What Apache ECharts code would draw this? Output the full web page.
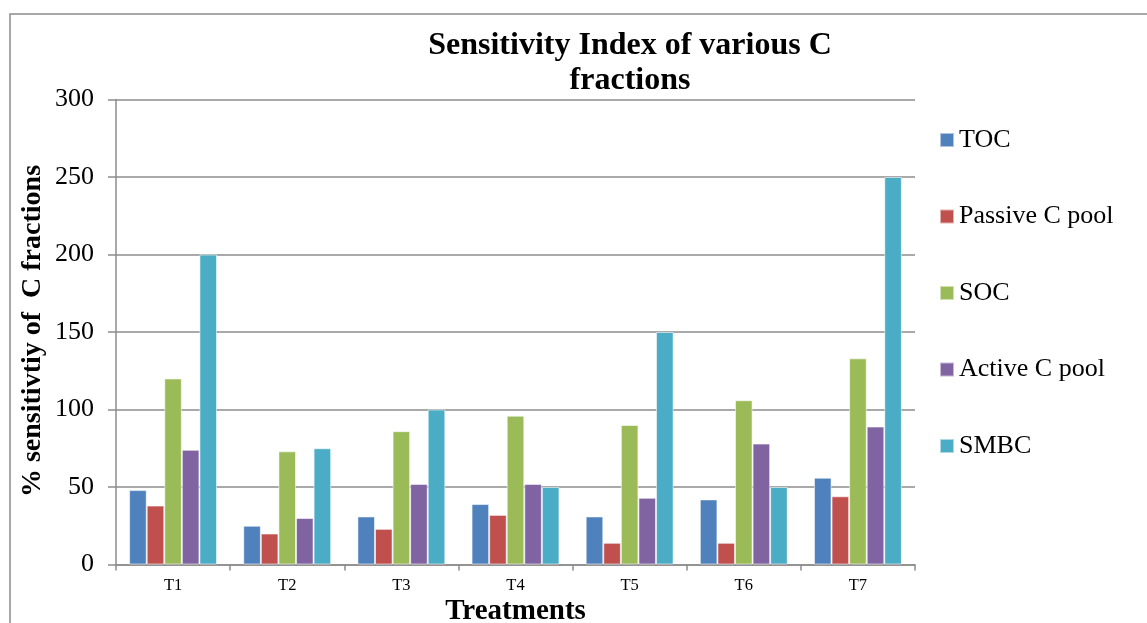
<!DOCTYPE html>
<html>
<head>
<meta charset="utf-8">
<script src="https://cdn.jsdelivr.net/npm/echarts@6/dist/echarts.min.js"></script>
<style>html,body{margin:0;padding:0;background:#fff;}#c{width:1147px;height:623px;}</style>
</head>
<body>
<div id="c"></div>
<script>
var categories = ['T1', 'T2', 'T3', 'T4', 'T5', 'T6', 'T7'];
var seriesNames = ['TOC', 'Passive C pool', 'SOC', 'Active C pool', 'SMBC'];
var tocValues = [48, 25, 31, 39, 31, 42, 56];
var passiveValues = [38, 20, 23, 32, 14, 14, 44];
var socValues = [120, 73, 86, 96, 90, 106, 133];
var activeValues = [74, 30, 52, 52, 43, 78, 89];
var smbcValues = [200, 75, 100, 50, 150, 50, 250];
var yTicks = [0, 50, 100, 150, 200, 250, 300];
var yAxisTitle = '% sensitivtiy of  C fractions';
var colors = ['#4F81BD', '#C0504D', '#9BBB59', '#8064A2', '#4BACC6'];

var font = '"Liberation Serif", "Times New Roman", serif';
var allValues = [tocValues, passiveValues, socValues, activeValues, smbcValues];
var chart = echarts.init(document.getElementById('c'));
var series = seriesNames.map(function (n, i) {
  return {
    name: n,
    type: 'bar',
    data: allValues[i],
    barGap: '0%',
    barCategoryGap: '23%',
    itemStyle: { color: colors[i], borderColor: 'rgba(255,255,255,0.55)', borderWidth: 1 },
    emphasis: { disabled: true }
  };
});
chart.setOption({
  animation: false,
  backgroundColor: '#ffffff',
  textStyle: { fontFamily: font },
  graphic: [{
    type: 'rect',
    shape: { x: 10, y: 14, width: 1300, height: 800 },
    style: { fill: 'none', stroke: '#8c8c8c', lineWidth: 1.5 },
    silent: true
  }, {
    type: 'text',
    x: 33,
    y: 331,
    rotation: Math.PI / 2,
    silent: true,
    style: {
      text: yAxisTitle,
      fontFamily: font, fontSize: 28, fontWeight: 'bold', fill: '#000',
      align: 'center', verticalAlign: 'middle'
    }
  }],
  title: {
    text: 'Sensitivity Index of various C\nfractions',
    left: 625,
    top: 23,
    textAlign: 'center',
    textStyle: { fontFamily: font, fontSize: 32, fontWeight: 'bold', color: '#000', lineHeight: 35 }
  },
  legend: {
    orient: 'vertical',
    left: 939,
    top: 127,
    padding: 0,
    itemWidth: 14,
    itemHeight: 14,
    itemGap: 50.5,
    icon: 'rect',
    data: seriesNames,
    textStyle: { fontFamily: font, fontSize: 26, color: '#000', lineHeight: 26 }
  },
  grid: { left: 116, right: 232, top: 99.5, bottom: 58.5, containLabel: false, outerBoundsMode: 'none' },
  xAxis: {
    type: 'category',
    data: categories,
    name: 'Treatments',
    nameLocation: 'middle',
    nameGap: 33,
    nameMoveOverlap: false,
    nameTextStyle: { fontFamily: font, fontSize: 29, fontWeight: 'bold', color: '#000', verticalAlign: 'top' },
    axisLine: { lineStyle: { color: '#8c8c8c', width: 1.5 } },
    axisTick: { show: true, length: 6, lineStyle: { color: '#8c8c8c', width: 1.5 } },
    axisLabel: { fontFamily: font, fontSize: 16.5, color: '#000', margin: 13 },
    splitLine: { show: false }
  },
  yAxis: {
    type: 'value',
    min: 0,
    max: 300,
    interval: 50,
    axisLine: { show: true, lineStyle: { color: '#8c8c8c', width: 1.5 } },
    axisTick: { show: true, length: 8, lineStyle: { color: '#8c8c8c', width: 1.5 } },
    axisLabel: {
      fontFamily: font, fontSize: 26, color: '#000', margin: 22,
      formatter: function (v) { return yTicks.indexOf(v) >= 0 ? String(v) : ''; }
    },
    splitLine: { lineStyle: { color: '#8c8c8c', width: 1.5 } }
  },
  series: series
});
</script>
</body>
</html>
